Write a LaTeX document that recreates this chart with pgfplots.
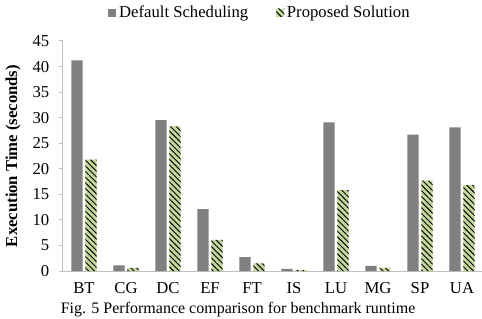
\documentclass[border=0pt]{standalone}
\usepackage{fontspec}
\setmainfont{Liberation Serif}
\usepackage{pgfplots}
\pgfplotsset{compat=1.18}
\usetikzlibrary{patterns.meta}
\definecolor{defgray}{HTML}{808080}
\definecolor{propgreen}{HTML}{C4D79B}
\definecolor{axgray}{HTML}{BFBFBF}
\begin{document}
\fontsize{12.5}{15}\selectfont
\begin{tikzpicture}
\useasboundingbox (-47.25pt,-35.25pt) rectangle (314.25pt,203.25pt);
\begin{axis}[
  scale only axis, width=315pt, height=172.5pt,
  ybar=2pt, bar width=8.5pt,
  xmin=-0.5, xmax=9.5, ymin=0, ymax=45,
  xtick={0,...,9},
  xticklabels={BT,CG,DC,EF,FT,IS,LU,MG,SP,UA},
  ytick={0,5,...,45},
  axis x line*=bottom, axis y line*=left,
  axis line style={axgray, line width=0.75pt},
  x tick style={draw=none},
  y tick style={axgray, line width=0.75pt},
  tick align=outside, major tick length=3pt,
  /pgf/number format/assume math mode=true,
  yticklabel style={xshift=-3pt},
  xticklabel style={anchor=base, yshift=-13.8pt},
  ylabel={\bfseries Execution Time (seconds)},
  ylabel style={at={(axis description cs:-0.119,0.5)}, anchor=center},
  legend columns=2,
  legend style={at={(rel axis cs:0.47,1.122)}, anchor=center, draw=none, fill=none,
    /tikz/every even column/.append style={column sep=19pt}},
  legend image code/.code={\path[#1] (0pt,-3pt) rectangle (6pt,3pt);},
]
\addplot[fill=defgray, draw=none] coordinates {
(0,41.2) (1,1.1) (2,29.5) (3,12.1) (4,2.7) (5,0.4) (6,29.1) (7,1.0) (8,26.7) (9,28.1)};
\addplot[fill=propgreen, draw=none,
  postaction={pattern={Lines[angle=-45,distance=3pt,line width=0.7pt]}, pattern color=black}] coordinates {
(0,21.8) (1,0.6) (2,28.3) (3,6.1) (4,1.5) (5,0.2) (6,15.8) (7,0.6) (8,17.7) (9,16.8)};
\legend{Default Scheduling, Proposed Solution}
\end{axis}
\node[anchor=base west, font=\fontsize{12}{14}\selectfont] at (-6pt,-31.8pt) {Fig. 5 Performance comparison for benchmark runtime};
\end{tikzpicture}
\end{document}
